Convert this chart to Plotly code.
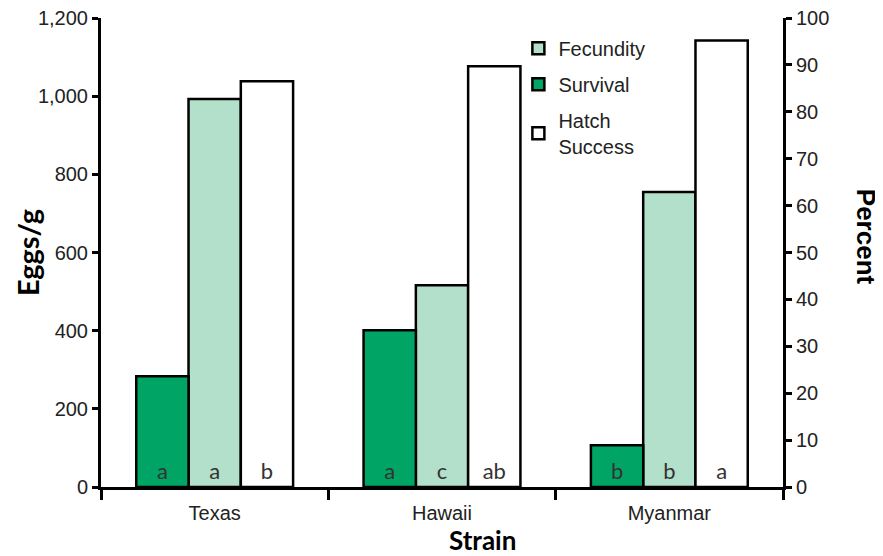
import plotly.graph_objects as go

# Data
strains = ["Texas", "Hawaii", "Myanmar"]
survival_pct = [23.6, 33.4, 8.9]
fecundity_eggs = [993, 516, 755]
hatch_pct = [86.5, 89.7, 95.2]
survival_letters = ["a", "a", "b"]
fecundity_letters = ["a", "c", "b"]
hatch_letters = ["b", "ab", "a"]

letter_font = dict(family="Lato, Open Sans, sans-serif", size=22, color="#333333")
tick_font = dict(family="Liberation Sans, Arial, sans-serif", size=20, color="#222222")
outline = dict(color="black", width=2.5)

fig = go.Figure()

fig.add_trace(go.Bar(
    x=strains, y=survival_pct, name="Survival", yaxis="y2", offsetgroup="1",
    marker=dict(color="#00A465", line=outline),
    text=survival_letters, textposition="inside", insidetextanchor="start",
    textangle=0, insidetextfont=letter_font,
    legendrank=2, legendgroup="s",
))
fig.add_trace(go.Bar(
    x=strains, y=fecundity_eggs, name="Fecundity", yaxis="y", offsetgroup="2",
    marker=dict(color="#B3E0CB", line=outline),
    text=fecundity_letters, textposition="inside", insidetextanchor="start",
    textangle=0, insidetextfont=letter_font,
    legendrank=1, legendgroup="f",
))
fig.add_trace(go.Bar(
    x=strains, y=hatch_pct, name="Hatch<br>Success", yaxis="y2", offsetgroup="3",
    marker=dict(color="white", line=outline),
    text=hatch_letters, textposition="inside", insidetextanchor="start",
    textangle=0, insidetextfont=letter_font,
    legendrank=3, legendgroup="h",
))

title_font = dict(family="Lato, sans-serif", size=29, color="black", weight="bold")

# the page adds an 8px body margin, so the figure is drawn 8px up/left
fig.update_layout(
    width=883, height=556,
    margin=dict(l=93, r=108, t=10, b=77),
    paper_bgcolor="white", plot_bgcolor="white",
    barmode="group", bargap=0.31, bargroupgap=0,
    showlegend=True,
    legend=dict(
        x=0.612, y=0.977, xanchor="left", yanchor="top",
        font=dict(family="Liberation Sans, Arial, sans-serif", size=20, color="#222222"),
        itemwidth=30, tracegroupgap=7, bgcolor="rgba(0,0,0,0)",
    ),
    xaxis=dict(
        range=[-0.5, 2.5], showline=True, linecolor="black", linewidth=3,
        ticks="outside", tickson="boundaries", ticklen=10, tickwidth=3, tickcolor="black",
        tickfont=dict(family="Liberation Sans Narrow, Arial Narrow, sans-serif", size=20, color="#222222"),
        ticklabelstandoff=6,
        showgrid=False, zeroline=False, automargin=False,
    ),
    yaxis=dict(
        range=[0, 1200], dtick=200, tickformat=",", showline=True, linecolor="black",
        linewidth=3, ticks="outside", ticklen=6, tickwidth=3, tickcolor="black",
        tickfont=tick_font, showgrid=False, zeroline=False, automargin=False,
        ticklabeloverflow="allow",
    ),
    yaxis2=dict(
        range=[0, 100], dtick=10, overlaying="y", side="right", showline=True,
        linecolor="black", linewidth=3, ticks="outside", ticklen=6, tickwidth=3,
        tickcolor="black", tickfont=tick_font, showgrid=False, zeroline=False,
        automargin=False, ticklabeloverflow="allow",
    ),
    annotations=[
        dict(text="Eggs/g", xref="paper", yref="paper", x=-0.107, y=0.499,
             xanchor="center", yanchor="middle",
             textangle=-90, showarrow=False, font=title_font),
        dict(text="Percent", xref="paper", yref="paper", x=1.122, y=0.533,
             xanchor="center", yanchor="middle",
             textangle=90, showarrow=False,
             font=dict(family="Liberation Sans, Arial, sans-serif", size=26,
                       color="black", weight="bold")),
        dict(text="Strain", xref="paper", yref="paper", x=0.56, y=-0.113,
             xanchor="center", yanchor="middle",
             showarrow=False, font=dict(family="Lato, sans-serif", size=26,
                                        color="black", weight="bold")),
    ],
)

fig.write_html("out.html")
